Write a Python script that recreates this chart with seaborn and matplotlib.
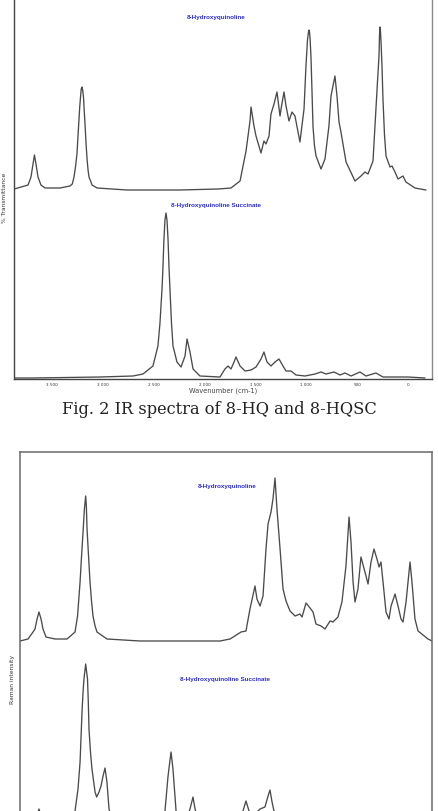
import numpy as np
import pandas as pd
import seaborn as sns
import matplotlib.pyplot as plt

# IR spectra, wavenumber (cm-1) and height above each trace's own baseline (a.u.)
ir_hq_wn = [3870, 3735, 3706, 3686, 3672, 3657, 3637, 3608, 3568, 3421,
            3323, 3300, 3283, 3270, 3254, 3245, 3234, 3227, 3219, 3212,
            3205, 3198, 3190, 3183, 3175, 3165, 3155, 3145, 3136, 3120,
            3106, 3057, 2762, 2241, 1868, 1740, 1651, 1592, 1553, 1543,
            1514, 1494, 1445, 1416, 1396, 1366, 1347, 1317, 1288, 1258,
            1248, 1219, 1199, 1170, 1140, 1111, 1062, 1022, 1003, 988,
            978, 973, 968, 963, 954, 944, 934, 920, 904, 855,
            816, 777, 757, 718, 698, 678, 659, 609, 521, 462,
            423, 393, 344, 315, 300, 285, 280, 275, 270, 265,
            256, 246, 231, 216, 177, 157, 128, 98, 49, 20,
            -69, -177]
ir_hq_int = [1, 5, 13, 26, 35, 26, 13, 5, 2, 2,
             4, 6, 13, 22, 36, 52, 71, 83, 93, 101,
             103, 100, 93, 80, 66, 47, 31, 20, 13, 9,
             5, 2, 0, 0, 1, 2, 9, 39, 69, 83,
             64, 54, 37, 49, 46, 54, 76, 86, 98, 74,
             81, 98, 84, 69, 78, 74, 48, 81, 124, 150,
             158, 160, 158, 152, 134, 100, 64, 45, 34, 21,
             31, 64, 94, 114, 94, 68, 58, 28, 9, 14,
             18, 16, 29, 81, 108, 134, 155, 163, 158, 148,
             125, 91, 55, 34, 23, 24, 18, 11, 14, 8,
             2, 0]

ir_sc_wn = [3873, 3686, 3028, 2703, 2605, 2507, 2458, 2438, 2418, 2409,
            2399, 2389, 2379, 2369, 2359, 2349, 2340, 2325, 2310, 2271,
            2231, 2192, 2172, 2143, 2113, 2045, 1848, 1799, 1769, 1740,
            1710, 1691, 1651, 1602, 1543, 1494, 1445, 1416, 1386, 1347,
            1307, 1268, 1229, 1199, 1150, 1101, 1012, 914, 855, 806,
            727, 668, 619, 560, 472, 413, 315, 246, 0, -167]
ir_sc_int = [0, 0, 1, 2, 4, 12, 32, 55, 89, 110,
             139, 158, 165, 158, 139, 110, 89, 55, 32, 16,
             11, 22, 39, 26, 9, 2, 1, 9, 12, 9,
             16, 21, 12, 7, 8, 11, 19, 26, 16, 12,
             16, 19, 12, 7, 7, 3, 2, 4, 6, 4,
             6, 3, 5, 2, 6, 2, 5, 1, 1, 0]

ir_ticks = [3500, 3000, 2500, 2000, 1500, 1000, 500, 0]
ir_tick_labels = ["3 500", "3 000", "2 500", "2 000", "1 500", "1 000", "500", "0"]

# Raman spectra, Raman shift (cm-1) and height above baseline (a.u.)
raman_hq_wn = [3601, 3531, 3487, 3470, 3452, 3435, 3417, 3400, 3374, 3295,
               3190, 3120, 3098, 3076, 3063, 3050, 3038, 3027, 3021, 3015,
               3002, 2989, 2976, 2963, 2945, 2928, 2841, 2552, 1853, 1765,
               1669, 1626, 1591, 1547, 1530, 1503, 1477, 1451, 1433, 1407,
               1390, 1372, 1355, 1328, 1302, 1276, 1241, 1197, 1154, 1136,
               1101, 1066, 1040, 1014, 970, 935, 891, 865, 822, 787,
               752, 725, 708, 690, 673, 647, 621, 586, 559, 533,
               507, 481, 463, 446, 428, 402, 376, 358, 323, 297,
               271, 253, 227, 192, 175, 149, 122, 35, 0]
raman_hq_int = [0, 2, 9, 12, 22, 29, 22, 12, 4, 2,
                2, 9, 25, 59, 85, 109, 132, 145, 135, 112,
                85, 59, 40, 25, 15, 9, 2, 0, 0, 2,
                9, 10, 32, 55, 42, 35, 45, 92, 117, 129,
                142, 163, 132, 92, 52, 40, 30, 25, 27, 24,
                38, 33, 29, 17, 15, 12, 20, 19, 24, 39,
                75, 124, 99, 59, 39, 52, 84, 69, 57, 79,
                92, 82, 74, 79, 59, 29, 22, 35, 47, 35,
                22, 19, 39, 79, 59, 22, 10, 2, 0]

raman_sc_wn = [3601, 3513, 3470, 3452, 3435, 3417, 3400, 3339, 3208, 3146,
               3120, 3094, 3076, 3059, 3050, 3042, 3027, 3011, 3004, 2998,
               2985, 2972, 2945, 2931, 2910, 2893, 2875, 2858, 2841, 2823,
               2788, 2683, 2465, 2377, 2334, 2307, 2281, 2264, 2237, 2202,
               2150, 2115, 2089, 2071, 2036, 1853, 1713, 1652, 1626, 1599,
               1582, 1547, 1503, 1460, 1433, 1416, 1398, 1381, 1328, 1154,
               900, 700, 400, 0]
raman_sc_int = [2, 4, 10, 18, 25, 18, 10, 5, 5, 12,
                23, 45, 72, 122, 142, 155, 170, 155, 132, 105,
                82, 65, 42, 37, 42, 48, 58, 66, 52, 25,
                12, 6, 6, 10, 23, 58, 82, 65, 23, 12,
                14, 25, 37, 25, 12, 8, 12, 23, 33, 23,
                18, 20, 25, 27, 38, 44, 32, 23, 12, 8,
                6, 6, 5, 4]

ir_offsets = (189, 1)
raman_offsets = (203, 10)
line_col = "#4a4a4a"
blue = "#2b2bd6"

sns.set_style("white")
plt.rcParams['font.family'] = ['DejaVu Sans']

W, H = 438, 812
fig = plt.figure(figsize=(W / 100, H / 100), dpi=100)

# ---- IR panel
ax1 = fig.add_axes([14 / W, 1 - 380 / H, 418 / W, 380 / H])
sns.lineplot(x=ir_hq_wn, y=np.array(ir_hq_int) + ir_offsets[0], ax=ax1, color=line_col,
             lw=0.95, estimator=None, sort=False)
sns.lineplot(x=ir_sc_wn, y=np.array(ir_sc_int) + ir_offsets[1], ax=ax1, color=line_col,
             lw=0.95, estimator=None, sort=False)
ax1.set_xlim(3873, -236)
ax1.set_ylim(0, 380)
ax1.set_xticks(ir_ticks)
ax1.set_xticklabels(ir_tick_labels, fontsize=3, color="#333333")
ax1.tick_params(axis="x", length=0, pad=2)
ax1.set_yticks([])
ax1.spines["top"].set_visible(False)
ax1.spines["left"].set_color("#444444")
ax1.spines["left"].set_linewidth(1.0)
ax1.spines["bottom"].set_color("#444444")
ax1.spines["bottom"].set_linewidth(1.0)
ax1.spines["right"].set_color("#888888")
ax1.spines["right"].set_linewidth(1.0)
ax1.set_xlabel("Wavenumber (cm-1)", fontsize=4.8, color="#444444", labelpad=0.5)
ax1.set_ylabel("% Transmittance", fontsize=4.3, color="#333333")
ax1.yaxis.set_label_coords(-0.016, 0.48)
ax1.text(1887, 362, "8-Hydroxyquinoline", color=blue, fontsize=4.5, fontweight="bold",
         ha="center", va="center", family="Liberation Sans")
ax1.text(1887, 174, "8-Hydroxyquinoline Succinate", color=blue, fontsize=4.5,
         fontweight="bold", ha="center", va="center", family="Liberation Sans")

fig.text(0.5, 1 - 410 / H, "Fig. 2 IR spectra of 8-HQ and 8-HQSC", ha="center", va="center",
         fontsize=11.7, family="DejaVu Serif", color="#222222")

# ---- Raman panel
ax2 = fig.add_axes([20 / W, 1 - 845 / H, 412 / W, 392 / H])
sns.lineplot(x=raman_hq_wn, y=np.array(raman_hq_int) + raman_offsets[0], ax=ax2,
             color=line_col, lw=0.95, estimator=None, sort=False)
sns.lineplot(x=raman_sc_wn, y=np.array(raman_sc_int) + raman_offsets[1], ax=ax2,
             color=line_col, lw=0.95, estimator=None, sort=False)
ax2.set_xlim(3601, 0)
ax2.set_ylim(0, 392)
ax2.set_xticks([])
ax2.set_yticks([])
for s in ax2.spines.values():
    s.set_color("#6a6a6a")
    s.set_linewidth(1.1)
ax2.set_ylabel("Raman intensity", fontsize=4.3, color="#333333")
ax2.yaxis.set_label_coords(-0.012, 0.421)
ax2.text(1792, 358, "8-Hydroxyquinoline", color=blue, fontsize=4.5, fontweight="bold",
         ha="center", va="center", family="Liberation Sans")
ax2.text(1809, 165, "8-Hydroxyquinoline Succinate", color=blue, fontsize=4.5,
         fontweight="bold", ha="center", va="center", family="Liberation Sans")

fig.savefig("out.png", dpi=100)
